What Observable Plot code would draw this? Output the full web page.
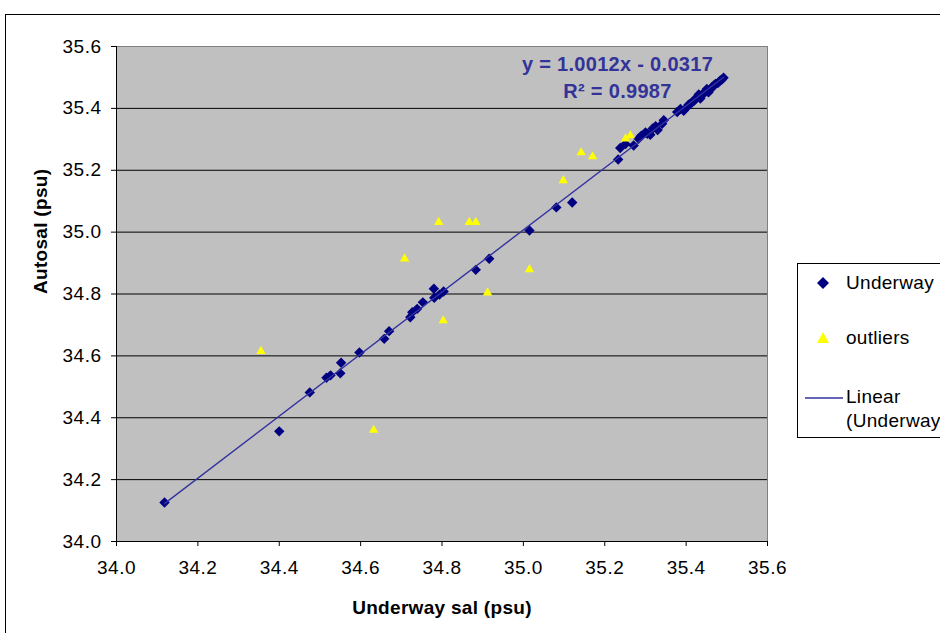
<!DOCTYPE html>
<html>
<head>
<meta charset="utf-8">
<script src="https://cdn.jsdelivr.net/npm/d3@7"></script>
<script src="https://cdn.jsdelivr.net/npm/@observablehq/plot@0.6"></script>
<style>
  html, body { margin:0; padding:0; background:#fff; overflow:hidden; }
  #wrap { position:relative; width:940px; height:633px; font-family:"Liberation Sans", Arial, sans-serif; }
  #outer { position:absolute; left:5px; top:14px; width:960px; height:640px; border-left:1px solid #000; border-top:1px solid #000; }
  #chart { position:absolute; left:0; top:0; }
  #chart svg g[aria-label="x-axis tick label"] text,
  #chart svg g[aria-label="y-axis tick label"] text { letter-spacing:0.5px; }
  #chart svg g[aria-label="text"] text { letter-spacing:0.3px; }
  #legend { position:absolute; left:797px; top:263px; width:170px; height:173px; border:1px solid #000; background:#fff; font-size:19px; letter-spacing:0.3px; color:#000; }
  #legend .t { position:absolute; left:48px; line-height:22px; white-space:nowrap; }
  #legend svg { position:absolute; left:0; top:0; }
</style>
</head>
<body>
<div id="wrap">
  <div id="outer"></div>
  <div id="chart"></div>
  <div id="legend">
    <svg width="60" height="173">
      <path d="M25,13 L31,19 L25,25 L19,19 Z" fill="#000080"/>
      <path d="M25,68 L31,79 L19,79 Z" fill="#ffff00"/>
      <line x1="7" x2="45" y1="134" y2="134" stroke="#3333a0" stroke-width="1.5"/>
    </svg>
    <div class="t" style="top:8px">Underway</div>
    <div class="t" style="top:63px">outliers</div>
    <div class="t" style="top:122px">Linear</div>
    <div class="t" style="top:146px">(Underway</div>
  </div>
</div>
<script>
// Underway salinity vs Autosal (psu)
const underwayX = [34.118, 34.400, 34.475, 34.516, 34.526, 34.550, 34.552, 34.597, 34.658, 34.670,
  34.722, 34.727, 34.739, 34.753, 34.780, 34.781, 34.794, 34.804, 34.883, 34.916,
  35.015, 35.081, 35.120, 35.233, 35.238, 35.251, 35.271, 35.283, 35.290, 35.300,
  35.305, 35.312, 35.318, 35.325, 35.330, 35.341, 35.345, 35.378, 35.386, 35.394,
  35.402, 35.406, 35.410, 35.415, 35.420, 35.423, 35.427, 35.431, 35.435, 35.443,
  35.447, 35.451, 35.455, 35.460, 35.464, 35.468, 35.472, 35.478, 35.484, 35.488, 35.492];
const underwayY = [34.126, 34.356, 34.482, 34.529, 34.537, 34.544, 34.578, 34.611, 34.655, 34.680,
  34.725, 34.741, 34.752, 34.773, 34.817, 34.788, 34.798, 34.808, 34.878, 34.914,
  35.005, 35.080, 35.096, 35.235, 35.272, 35.285, 35.280, 35.302, 35.312, 35.322,
  35.318, 35.315, 35.335, 35.342, 35.330, 35.350, 35.362, 35.388, 35.398, 35.392,
  35.404, 35.412, 35.415, 35.420, 35.425, 35.431, 35.436, 35.445, 35.432, 35.447,
  35.455, 35.463, 35.452, 35.462, 35.469, 35.474, 35.479, 35.482, 35.490, 35.493, 35.499];
const outlierX = [34.355, 34.632, 34.708, 34.792, 34.803, 34.867, 34.883, 34.912, 35.015, 35.098, 35.142, 35.170, 35.251, 35.263];
const outlierY = [34.615, 34.360, 34.914, 35.032, 34.714, 35.032, 35.032, 34.804, 34.879, 35.167, 35.257, 35.244, 35.302, 35.312];
const axisTicks = [34.0, 34.2, 34.4, 34.6, 34.8, 35.0, 35.2, 35.4, 35.6];
const gridTicks = [34.2, 34.4, 34.6, 34.8, 35.0, 35.2, 35.4];
const equationLines = ["y = 1.0012x - 0.0317", "R\u00b2 = 0.9987"];
const xTitle = "Underway sal (psu)";
const yTitle = "Autosal (psu)";

const underway = underwayX.map((x, i) => ({x, y: underwayY[i]}));
const outliers = outlierX.map((x, i) => ({x, y: outlierY[i]}));
const fmt = d3.format(".1f");

const chart = Plot.plot({
  width: 940,
  height: 633,
  marginLeft: 116,
  marginRight: 173,
  marginTop: 46,
  marginBottom: 92,
  style: {fontFamily: "Liberation Sans, Arial, sans-serif", fontSize: "19px", color: "#000", background: "transparent"},
  x: {domain: [34, 35.6]},
  y: {domain: [34, 35.6]},
  marks: [
    Plot.frame({fill: "#c0c0c0", stroke: "#808080"}),
    Plot.ruleY(gridTicks, {stroke: "#000", strokeWidth: 1}),
    Plot.ruleY([35.6], {stroke: "#808080"}),
    Plot.axisX({ticks: axisTicks, tickFormat: fmt, tickSize: 5, tickPadding: 14, label: null, fontSize: 19}),
    Plot.axisY({ticks: axisTicks, tickFormat: fmt, tickSize: 5, tickPadding: 10, label: null, fontSize: 19}),
    Plot.ruleX([34], {stroke: "#000"}),
    Plot.ruleY([34], {stroke: "#000"}),
    Plot.dot(underway, {x: "x", y: "y", symbol: "diamond2", r: 4.7, fill: "#000080", stroke: "none"}),
    Plot.dot(outliers, {x: "x", y: "y", symbol: "triangle2", r: 4.5, fill: "#ffff00", stroke: "none"}),
    Plot.linearRegressionY(underway, {x: "x", y: "y", ci: 0, stroke: "#3333a0", strokeWidth: 1.4}),
    Plot.text([equationLines[0]], {frameAnchor: "top-right", dx: -150, dy: 18, lineAnchor: "middle", text: d => d, fill: "#333399", fontWeight: "bold", fontSize: 20, textAnchor: "middle"}),
    Plot.text([equationLines[1]], {frameAnchor: "top-right", dx: -150, dy: 45, lineAnchor: "middle", text: d => d, fill: "#333399", fontWeight: "bold", fontSize: 20, textAnchor: "middle"}),
    Plot.text([xTitle], {frameAnchor: "bottom", dy: 66, lineAnchor: "middle", text: d => d, fontWeight: "bold", fontSize: 19}),
    Plot.text([yTitle], {frameAnchor: "left", dx: -76, rotate: -90, text: d => d, fontWeight: "bold", fontSize: 19})
  ]
});
document.getElementById("chart").appendChild(chart);
</script>
</body>
</html>
